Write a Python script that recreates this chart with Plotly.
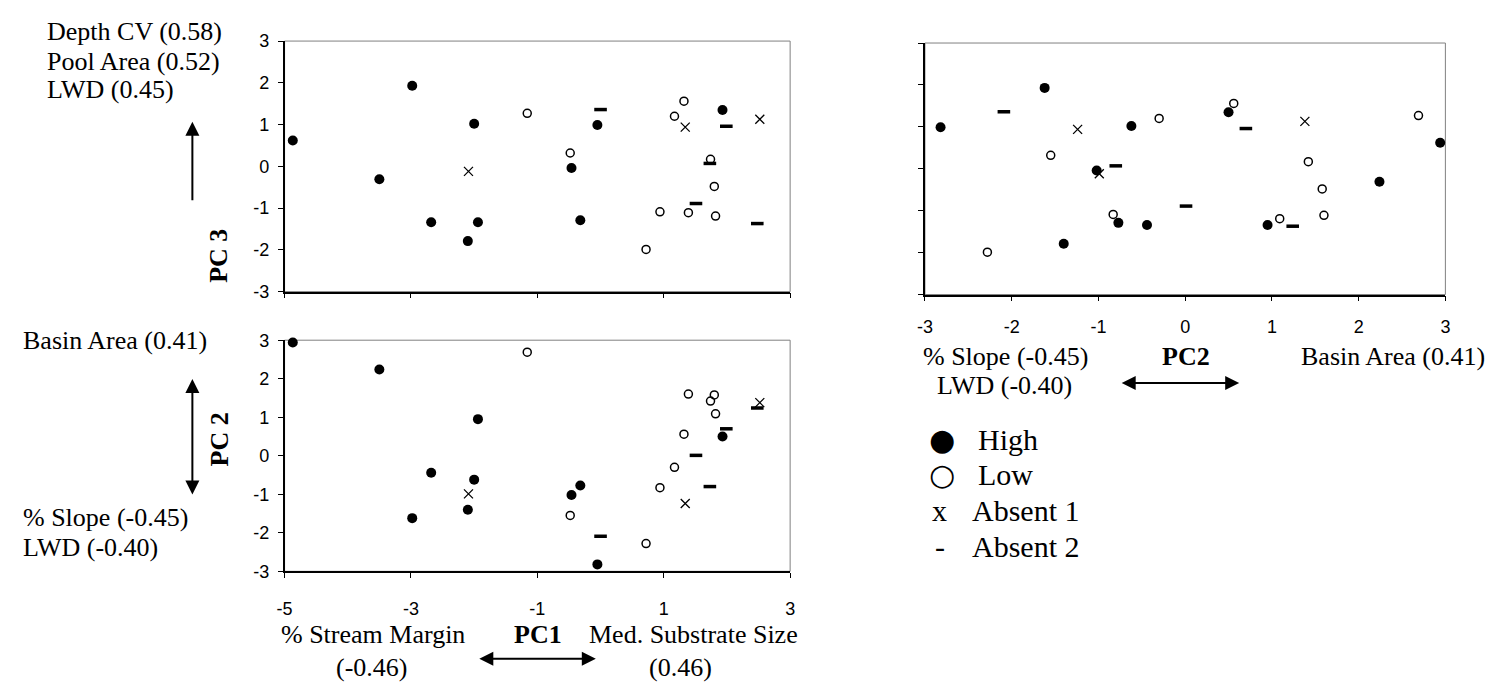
import plotly.graph_objects as go

W, H = 1494, 693

# ---------------- data (PC scores by site group) ----------------
high_pc1 = [-4.87, -3.50, -2.98, -2.68, -2.00, -1.94, -2.10, -0.05, -0.46, -0.32, 1.93]
high_pc2 = [2.94, 2.24, -1.62, -0.44, -0.62, 0.95, -1.40, -2.82, -1.02, -0.77, 0.50]
high_pc3 = [0.62, -0.31, 1.93, -1.34, 1.02, -1.34, -1.79, 0.99, -0.04, -1.29, 1.35]

low_pc1 = [-1.16, -0.48, 1.32, 1.17, 1.74, 1.80, 0.94, 1.39, 1.82, 0.72]
low_pc2 = [2.69, -1.55, 0.56, -0.30, 1.42, 1.58, -0.83, 1.60, 1.09, -2.28]
low_pc3 = [1.27, 0.32, 1.56, 1.20, 0.17, -0.48, -1.09, -1.11, -1.19, -1.99]

abs1_pc1 = [-2.09, 1.34, 2.52]
abs1_pc2 = [-0.99, -1.24, 1.38]
abs1_pc3 = [-0.12, 0.94, 1.13]

abs2_pc1 = [0.00, 1.99, 1.73, 1.51, 2.48]
abs2_pc2 = [-2.09, 0.70, -0.80, 0.01, 1.24]
abs2_pc3 = [1.36, 0.96, 0.07, -0.89, -1.37]

pc1_ticks = [-5, -3, -1, 1, 3]
pc1_ticktext = ["-5", "-3", "-1", "1", "3"]
pc2_ticks = [-3, -2, -1, 0, 1, 2, 3]
pc2_ticktext = ["-3", "-2", "-1", "0", "1", "2", "3"]
y_ticks = [-3, -2, -1, 0, 1, 2, 3]
y_ticktext = ["-3", "-2", "-1", "0", "1", "2", "3"]

groups = {
    "High": (high_pc1, high_pc2, high_pc3),
    "Low": (low_pc1, low_pc2, low_pc3),
    "Absent 1": (abs1_pc1, abs1_pc2, abs1_pc3),
    "Absent 2": (abs2_pc1, abs2_pc2, abs2_pc3),
}

styles = {
    "High": dict(symbol="circle", size=10, color="black", line=dict(width=0)),
    "Low": dict(symbol="circle-open", size=8, color="black", line=dict(width=1.5)),
    "Absent 1": dict(symbol="x-thin-open", size=9, color="black", line=dict(width=1.3)),
    "Absent 2": dict(symbol="line-ew-open", size=9, color="black", line=dict(width=3.5)),
}

def fx(p):
    return p / W

def fy(p):
    return 1 - p / H

fig = go.Figure()

# panels: (xaxis ref, yaxis ref, x index, y index)
panels = [("x", "y", 0, 2), ("x2", "y2", 0, 1), ("x3", "y3", 1, 2)]
for xa, ya, ix, iy in panels:
    for name, arrs in groups.items():
        fig.add_trace(go.Scatter(
            x=arrs[ix], y=arrs[iy], mode="markers", name=name,
            marker=styles[name], xaxis=xa, yaxis=ya, showlegend=False,
            cliponaxis=False, hoverinfo="skip"))

# domains in pixels
dom = {
    "1": dict(x=(279, 789), y=(32, 290)),
    "2": dict(x=(279, 789), y=(340, 578)),
    "3": dict(x=(925, 1450), y=(34, 293)),
}

tickfont = dict(family="Liberation Sans, Arial", size=18, color="black")
axis_common = dict(showgrid=False, zeroline=False, showline=True, linecolor="black",
                   linewidth=1.5, ticks="outside", ticklen=5, tickcolor="black",
                   tickwidth=1, tickfont=tickfont, fixedrange=True)

layout = dict(
    width=W, height=H, margin=dict(l=0, r=0, t=0, b=0),
    plot_bgcolor="white", paper_bgcolor="white", showlegend=False,
)

# top-left: PC1 vs PC3
layout["xaxis"] = dict(axis_common, domain=[fx(279), fx(789)], range=[-5, 3],
                       tickvals=pc1_ticks, ticktext=pc1_ticktext,
                       showticklabels=False, anchor="y")
layout["yaxis"] = dict(axis_common, domain=[fy(290), fy(32)], range=[-3, 3],
                       tickvals=y_ticks, ticktext=y_ticktext, anchor="x",
                       ticklabelstandoff=5)
# bottom-left: PC1 vs PC2
layout["xaxis2"] = dict(axis_common, domain=[fx(279), fx(789)], range=[-5, 3],
                        tickvals=pc1_ticks, ticktext=pc1_ticktext, anchor="y2",
                        ticklabelstandoff=15)
layout["yaxis2"] = dict(axis_common, domain=[fy(578), fy(340)], range=[-3, 3],
                        tickvals=y_ticks, ticktext=y_ticktext, anchor="x2",
                        ticklabelstandoff=5)
# right: PC2 vs PC3
layout["xaxis3"] = dict(axis_common, domain=[fx(925), fx(1450)], range=[-3, 3],
                        tickvals=pc2_ticks, ticktext=pc2_ticktext, anchor="y3",
                        ticklabelstandoff=10)
layout["yaxis3"] = dict(axis_common, domain=[fy(293), fy(34)], range=[-3, 3],
                        tickvals=y_ticks, anchor="x3", showticklabels=False)

fig.update_layout(**layout)

# thin grey frames round each plot area
shapes = []
for k, d in dom.items():
    shapes.append(dict(type="rect", xref="paper", yref="paper",
                       x0=fx(d["x"][0]), x1=fx(d["x"][1]),
                       y0=fy(d["y"][1]), y1=fy(d["y"][0]),
                       line=dict(color="#808080", width=1), layer="below"))
fig.update_layout(shapes=shapes)

serif = "Liberation Serif, Times New Roman, serif"
ann = []

def text(t, x, y, anchor="left", size=26, angle=0):
    ann.append(dict(text=t, x=fx(x), y=fy(y), xref="paper", yref="paper",
                    xanchor=anchor, yanchor="middle", showarrow=False,
                    textangle=angle,
                    font=dict(family=serif, size=size, color="black")))

def arrow(x0, y0, x1, y1, both=False):
    # arrow head at (x1, y1); tail at (x0, y0)
    ann.append(dict(text="", x=fx(x1), y=fy(y1), xref="paper", yref="paper",
                    ax=x0 - x1, ay=y0 - y1, axref="pixel", ayref="pixel",
                    showarrow=True, arrowhead=2, arrowsize=1.4, arrowwidth=2,
                    arrowcolor="black", standoff=0, startstandoff=0,
                    arrowside="end+start" if both else "end"))

# PC3 (top-left) labels
text("Depth CV (0.58)", 37, 22)
text("Pool Area (0.52)", 37, 53)
text("LWD (0.45)", 37, 82)
arrow(186, 195, 186, 115)
text("<b>PC 3</b>", 213, 253, anchor="center", angle=-90)

# PC2 (bottom-left) labels
text("Basin Area (0.41)", 13, 340)
arrow(186, 497, 186, 380, both=True)
text("<b>PC 2</b>", 213, 442, anchor="center", angle=-90)
text("% Slope (-0.45)", 13, 523)
text("LWD (-0.40)", 13, 553)

# PC1 labels
text("% Stream Margin", 368, 643, anchor="center")
text("(-0.46)", 367, 677, anchor="center")
text("<b>PC1</b>", 535, 643, anchor="center")
arrow(475, 668, 593, 668, both=True)
text("Med. Substrate Size", 692, 643, anchor="center")
text("(0.46)", 678, 677, anchor="center")

# PC2 (right) labels
text("% Slope (-0.45)", 1006, 357, anchor="center")
text("LWD (-0.40)", 1005, 387, anchor="center")
text("<b>PC2</b>", 1188, 357, anchor="center")
arrow(1123, 384, 1242, 384, both=True)
text("Basin Area (0.41)", 1302, 357)

# legend
legend_rows = [("●", "High", 442), ("○", "Low", 478), ("x", "Absent 1", 515), ("-", "Absent 2", 552)]
for sym, lab, yy in legend_rows:
    if sym in ("●", "○"):
        ann.append(dict(text=sym, x=fx(942), y=fy(yy), xref="paper", yref="paper",
                        xanchor="center", yanchor="middle", showarrow=False,
                        font=dict(family="DejaVu Sans", size=30, color="black")))
    else:
        text(sym, 940, yy, anchor="center", size=30)
    text(lab, 977 if sym in ("●", "○") else 970, yy, size=30)

fig.update_layout(annotations=ann)

fig.write_html("out.html", config={"displayModeBar": False},
               post_script="document.body.style.margin='0';document.body.style.overflow='hidden';")
